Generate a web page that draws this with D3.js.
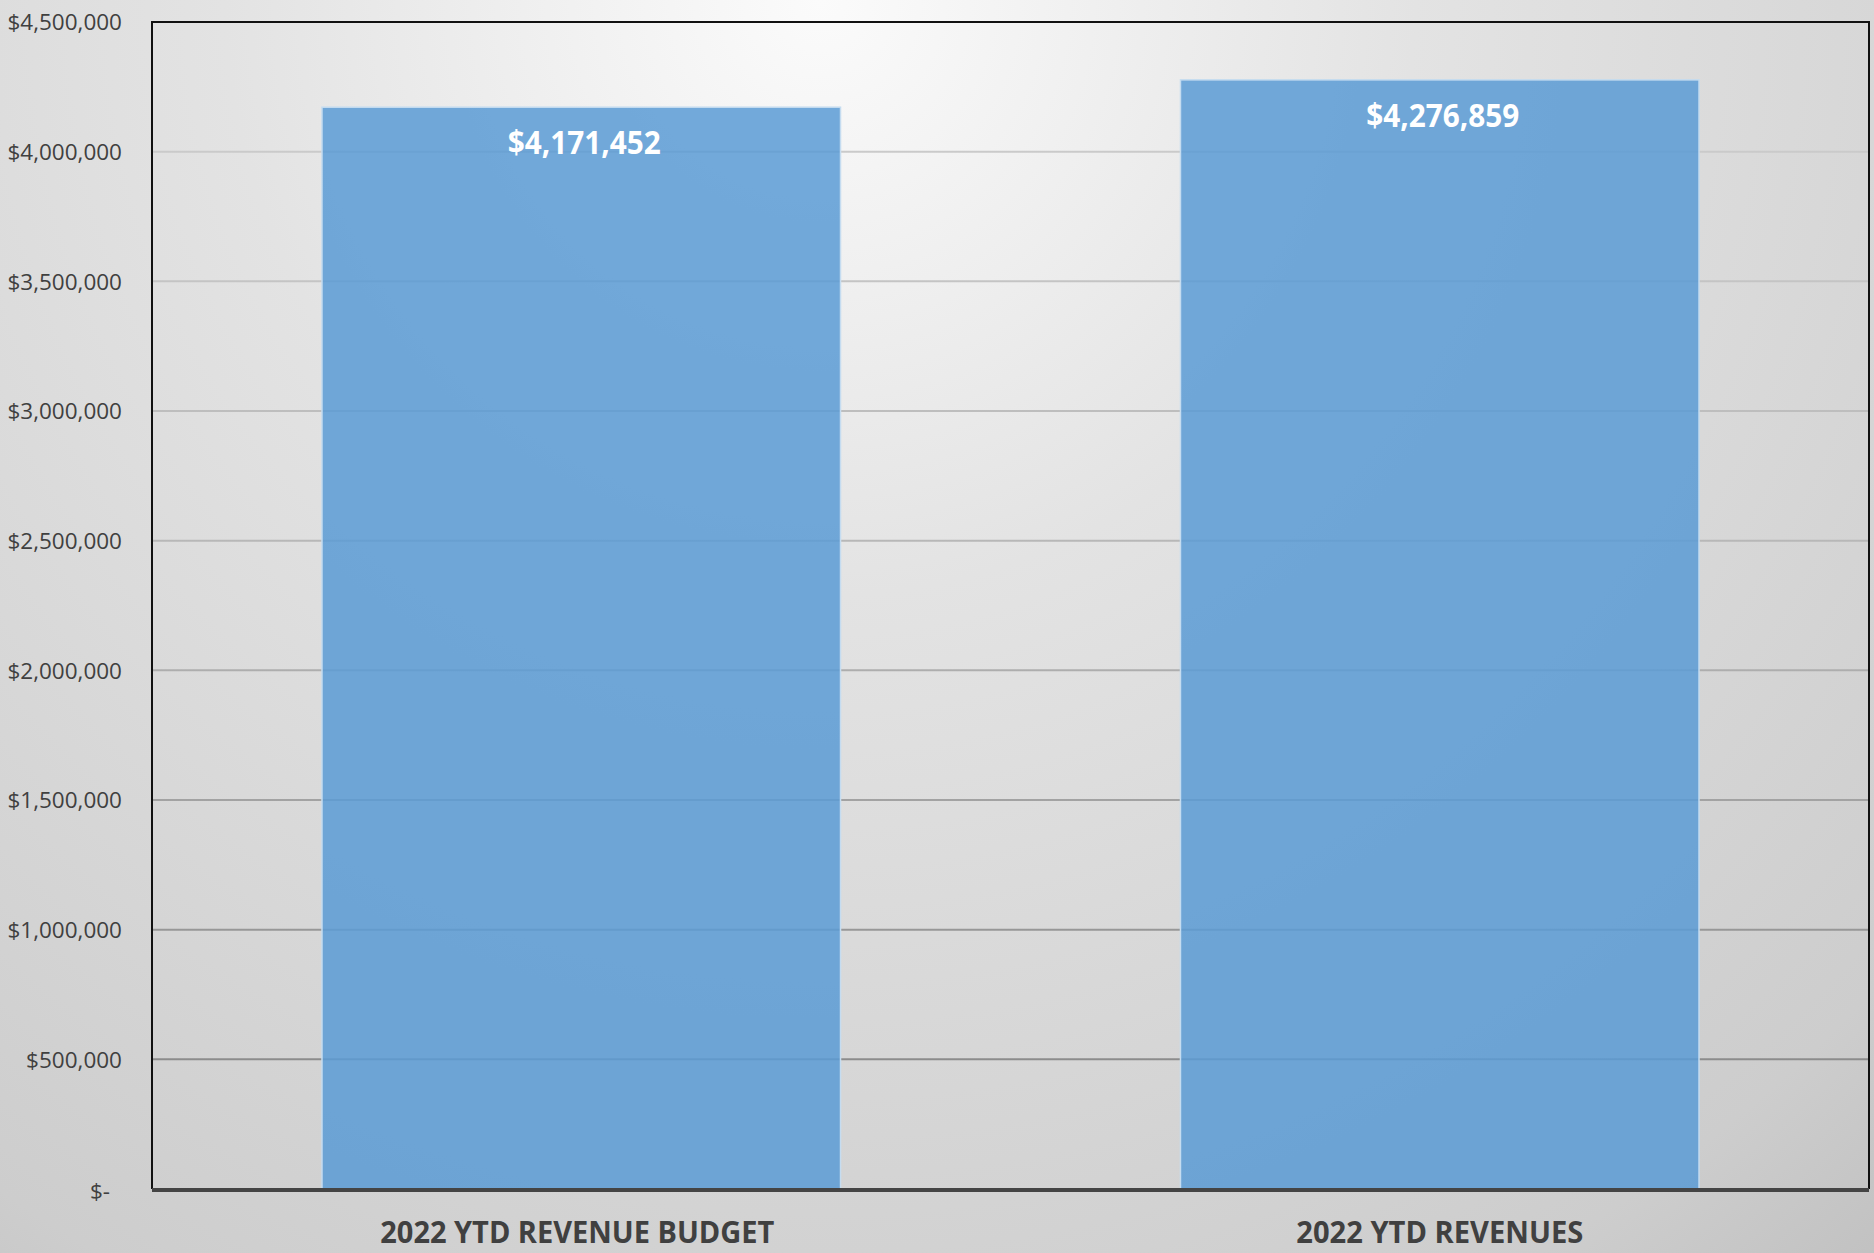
<!DOCTYPE html>
<html>
<head>
<meta charset="utf-8">
<script src="https://cdn.jsdelivr.net/npm/d3@7/dist/d3.min.js"></script>
<style>
  html, body { margin: 0; padding: 0; background: #d0d0d0; overflow: hidden; }
  svg { display: block; }
</style>
</head>
<body>
<script>
// ---- data ----
const categories = ["2022 YTD REVENUE BUDGET", "2022 YTD REVENUES"];
const values = [4171452, 4276859];
const valueLabels = ["$4,171,452", "$4,276,859"];
const tickValues = [0, 500000, 1000000, 1500000, 2000000, 2500000, 3000000, 3500000, 4000000, 4500000];
const tickLabels = ["$-", "$500,000", "$1,000,000", "$1,500,000", "$2,000,000", "$2,500,000", "$3,000,000", "$3,500,000", "$4,000,000", "$4,500,000"];

// ---- layout ----
const W = 1874, H = 1253;
const margin = { top: 22, right: 5, bottom: 64, left: 152 };
const iw = W - margin.left - margin.right;
const ih = H - margin.top - margin.bottom;

const svg = d3.select("body").append("svg").attr("width", W).attr("height", H);
const defs = svg.append("defs");

const bg = defs.append("radialGradient").attr("id", "bg")
  .attr("gradientUnits", "userSpaceOnUse")
  .attr("cx", 820).attr("cy", 0).attr("r", 1700);
[[0, "#fbfbfb"], [0.35, "#e3e3e3"], [0.6, "#d8d8d8"], [0.85, "#cdcdcd"], [1, "#bebebe"]]
  .forEach(([o, c]) => bg.append("stop").attr("offset", o).attr("stop-color", c));

const gg = defs.append("linearGradient").attr("id", "grid")
  .attr("gradientUnits", "userSpaceOnUse")
  .attr("x1", 0).attr("y1", margin.top).attr("x2", 0).attr("y2", margin.top + ih);
[[0, "#cfcfcf"], [0.45, "#b6b6b6"], [1, "#7f7f7f"]]
  .forEach(([o, c]) => gg.append("stop").attr("offset", o).attr("stop-color", c));

svg.append("rect").attr("width", W).attr("height", H).attr("fill", "url(#bg)");

const g = svg.append("g").attr("transform", `translate(${margin.left},${margin.top})`);

const x = d3.scaleBand().domain(categories).range([0, iw]).paddingInner(0.396).paddingOuter(0.198);
const y = d3.scaleLinear().domain([0, 4500000]).range([ih, 0]);

// gridlines
g.append("g").selectAll("line").data(tickValues.filter(v => v > 0 && v < 4500000)).join("line")
  .attr("x1", 0).attr("x2", iw)
  .attr("y1", d => y(d)).attr("y2", d => y(d))
  .attr("stroke", "url(#grid)").attr("stroke-width", 2);

// y axis labels
const yAxis = d3.axisLeft(y).tickValues(tickValues)
  .tickFormat((d, i) => tickLabels[i]).tickSize(0).tickPadding(30);
const ya = g.append("g").call(yAxis);
ya.select(".domain").remove();
ya.selectAll("text")
  .attr("font-family", "'Open Sans', sans-serif")
  .attr("font-size", 22.5)
  .attr("fill", "#404040")
  .attr("dx", d => d === 0 ? -12 : 0)
  .attr("dy", d => d === 0 ? "0.4em" : "0.35em");

// bars
g.append("g").selectAll("rect").data(values).join("rect")
  .attr("x", (d, i) => x(categories[i]))
  .attr("width", x.bandwidth())
  .attr("y", d => y(d))
  .attr("height", d => ih - y(d))
  .attr("fill", "#5b9bd5").attr("fill-opacity", 0.85)
  .attr("stroke", "#c5dcf0").attr("stroke-width", 1.5);

// value labels
g.append("g").selectAll("text").data(values).join("text")
  .attr("x", (d, i) => x(categories[i]) + x.bandwidth() / 2 + 3)
  .attr("y", d => y(d) + 47)
  .attr("text-anchor", "middle")
  .attr("font-family", "'Open Sans', sans-serif")
  .attr("font-weight", "bold")
  .attr("font-size", 33)
  .attr("fill", "#ffffff")
  .attr("textLength", 153)
  .attr("lengthAdjust", "spacingAndGlyphs")
  .text((d, i) => valueLabels[i]);

// plot border (left, top, right)
g.append("path")
  .attr("d", `M0,${ih} V0 H${iw} V${ih}`)
  .attr("fill", "none").attr("stroke", "#111").attr("stroke-width", 2);

// x axis
const xAxis = d3.axisBottom(x).tickSize(0).tickPadding(0);
const xa = g.append("g").attr("transform", `translate(0,${ih})`).call(xAxis);
xa.select(".domain").remove();
g.append("line").attr("x1", 0).attr("x2", iw).attr("y1", ih + 1).attr("y2", ih + 1)
  .attr("stroke", "#444").attr("stroke-width", 4);
const catLens = [394, 287];
xa.selectAll("text")
  .attr("y", 54)
  .attr("dy", 0)
  .attr("x", (d, i) => i === 0 ? -4 : 0)
  .attr("font-family", "'Open Sans', sans-serif")
  .attr("font-weight", "bold")
  .attr("font-size", 31)
  .attr("fill", "#404040")
  .attr("textLength", (d, i) => catLens[i])
  .attr("lengthAdjust", "spacingAndGlyphs");
</script>
</body>
</html>
